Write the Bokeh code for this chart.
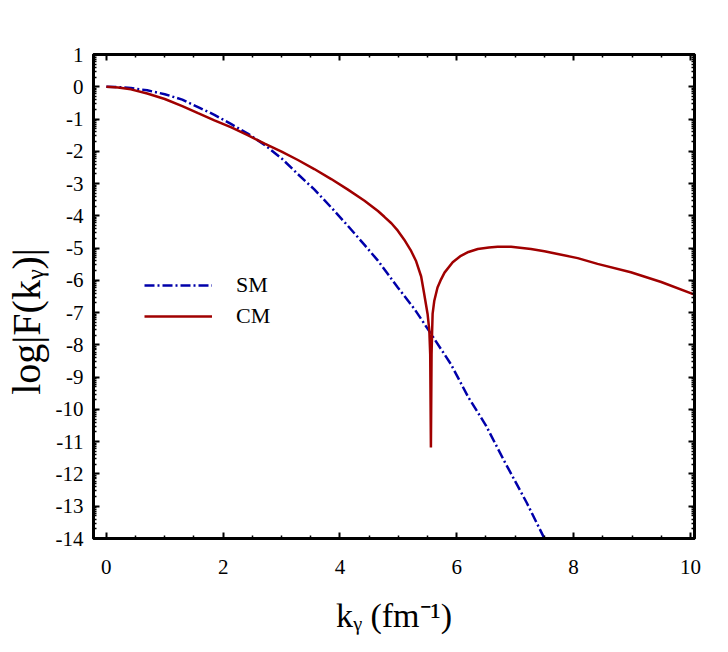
import math
from bokeh.plotting import figure
from bokeh.models import Range1d, LinearAxis, FixedTicker, Legend, LegendItem
from bokeh.embed import file_html
from bokeh.resources import INLINE

# ---- data ----
k_sm = [0.0, 0.20, 0.42, 0.70, 1.00, 1.30, 1.57, 1.85, 2.14, 2.42, 2.71, 3.00,
        3.28, 3.56, 3.85, 4.13, 4.42, 4.65, 4.99, 5.28, 5.56, 5.90, 6.20, 6.50,
        6.81, 7.20, 7.50]
logF_sm = [0.0, -0.01, -0.04, -0.11, -0.23, -0.40, -0.63, -0.87, -1.16, -1.45,
           -1.80, -2.22, -2.71, -3.18, -3.74, -4.30, -4.90, -5.39, -6.22, -6.90,
           -7.66, -8.60, -9.63, -10.50, -11.59, -12.90, -14.00]

k_cm = [0.0, 0.20, 0.42, 0.70, 1.00, 1.30, 1.57, 1.85, 2.14, 2.42, 2.71, 3.00,
        3.28, 3.56, 3.85, 4.13, 4.42, 4.65, 4.76, 4.88, 4.99, 5.10, 5.21, 5.30,
        5.39, 5.44, 5.50, 5.53, 5.545, 5.557, 5.568, 5.578, 5.586, 5.615, 5.67,
        5.72, 5.79, 5.93, 6.07, 6.20, 6.36, 6.55, 6.70, 6.93, 7.27, 7.50, 8.07,
        8.41, 8.98, 9.50, 10.07]
logF_cm = [0.0, -0.02, -0.08, -0.21, -0.38, -0.60, -0.82, -1.04, -1.26, -1.50,
           -1.76, -2.01, -2.27, -2.55, -2.86, -3.18, -3.53, -3.85, -4.03, -4.23,
           -4.46, -4.74, -5.06, -5.39, -5.88, -6.40, -7.04, -7.56, -8.30, -11.18,
           -8.30, -7.56, -7.04, -6.63, -6.22, -6.01, -5.76, -5.44, -5.24, -5.12,
           -5.03, -4.98, -4.96, -4.96, -5.03, -5.10, -5.31, -5.49, -5.75, -6.05,
           -6.44]

x_major_ticks = [0, 2, 4, 6, 8, 10]
x_minor_ticks = [0.5, 1.0, 1.5, 2.5, 3.0, 3.5, 4.5, 5.0, 5.5, 6.5, 7.0, 7.5,
                 8.5, 9.0, 9.5]
y_major_ticks = list(range(1, -15, -1))
y_minor_ticks = [n + math.log10(m) for n in range(-14, 1) for m in range(2, 10)]

series_names = ["SM", "CM"]
x_title = "kᵧ (fm⁻¹)"
y_title = "log|F(kᵧ)|"

FONT = "Liberation Serif"
BLUE = "#0000AA"
RED = "#A00000"

p = figure(frame_width=601, frame_height=484,
           x_range=Range1d(-0.22, 10.07), y_range=Range1d(-14, 1),
           output_backend="svg", toolbar_location=None,
           min_border_left=88, min_border_top=54, min_border_right=23,
           min_border_bottom=98, background_fill_color="white",
           border_fill_color="white")
p.xgrid.visible = False
p.ygrid.visible = False
p.outline_line_color = "black"
p.outline_line_width = 3

bottom = p.below[0]
left = p.left[0]
top = LinearAxis()
right = LinearAxis()
p.add_layout(top, "above")
p.add_layout(right, "right")

xt = FixedTicker(ticks=x_major_ticks, minor_ticks=x_minor_ticks)
yt = FixedTicker(ticks=y_major_ticks, minor_ticks=y_minor_ticks)
bottom.ticker = xt
top.ticker = xt
left.ticker = yt
right.ticker = yt

for ax in [bottom, top, left, right]:
    ax.axis_line_width = 3
    ax.axis_line_color = "black"
    ax.major_tick_in = 6
    ax.major_tick_out = 0
    ax.minor_tick_in = 3
    ax.minor_tick_out = 0
    ax.major_tick_line_width = 2
    ax.minor_tick_line_width = 1.5
    ax.major_label_text_font = FONT
    ax.major_label_text_font_size = "21px"
    ax.major_label_text_color = "black"
    ax.axis_label_text_font = FONT
    ax.axis_label_text_font_style = "normal"
    ax.axis_label_text_color = "black"

for ax in [top, right]:
    ax.major_label_text_font_size = "1px"
    ax.major_label_text_color = None
    ax.major_label_standoff = 0

bottom.major_label_overrides = {float(v): str(v) for v in x_major_ticks}
left.major_label_overrides = {float(v): str(v) for v in y_major_ticks}

bottom.major_label_standoff = 21
left.major_label_standoff = 10
bottom.axis_label = x_title
bottom.axis_label_text_font_size = "34px"
bottom.axis_label_standoff = 20
left.axis_label = y_title + "\u00a0" * 5
left.axis_label_text_font_size = "40px"
left.axis_label_standoff = 4

r_sm = p.line(k_sm, logF_sm, line_color=BLUE, line_width=2.5, line_dash="10 3 2 3")
r_cm = p.line(k_cm, logF_cm, line_color=RED, line_width=2.5)

legend = Legend(items=[LegendItem(label=series_names[0], renderers=[r_sm]),
                       LegendItem(label=series_names[1], renderers=[r_cm])],
                location=(51, 209), padding=0, spacing=5,
                glyph_width=68, glyph_height=24, label_height=24,
                label_standoff=24, label_text_font=FONT,
                label_text_font_size="22px", label_text_color="black",
                border_line_color=None, background_fill_alpha=0)
p.add_layout(legend, "center")

open("out.html", "w").write(file_html(p, INLINE))
